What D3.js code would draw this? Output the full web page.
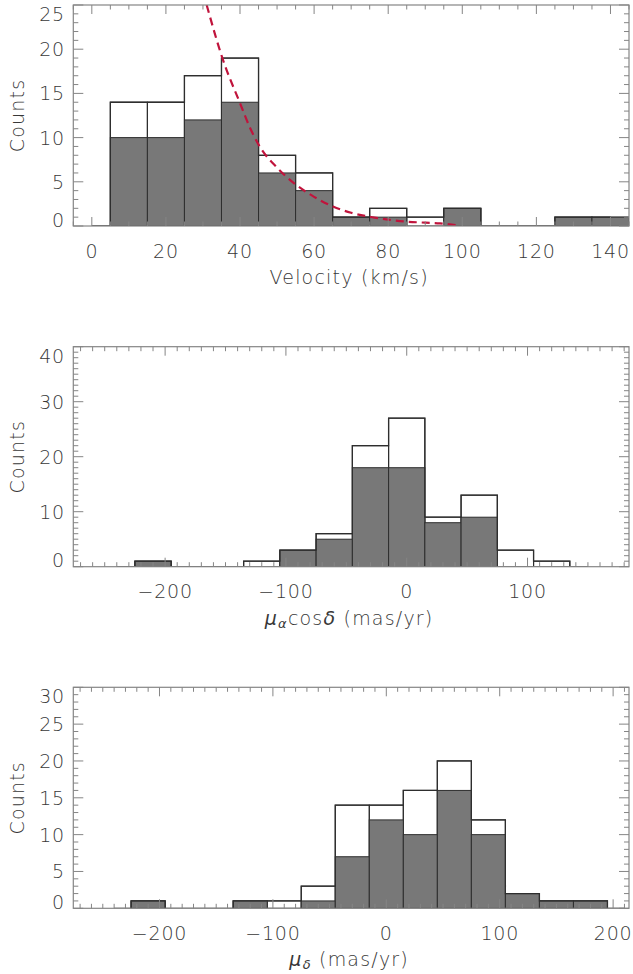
<!DOCTYPE html>
<html><head><meta charset="utf-8">
<script src="https://cdn.jsdelivr.net/npm/d3@7/dist/d3.min.js"></script>
<style>
html,body{margin:0;padding:0;background:#fff;}
svg text{font-family:"DejaVu Sans",sans-serif;font-weight:200;fill:#383838;}
</style></head>
<body>
<script>
// ---------- data ----------
const velCenters = [0,10,20,30,40,50,60,70,80,90,100,110,120,130,140];
const velTotal   = [0,14,14,17,19,8,6,1,2,1,2,0,0,1,1];
const velSub     = [0,10,10,12,14,6,4,1,1,0,2,0,0,1,1];
const velFitX    = [31,35.4,40,42.6,45.3,50,54.7,60,65.1,70,75.9,80,84.9,90,94,98.4];
const velFitY    = [25,18.8,13.9,11.2,9.0,6.6,4.8,3.3,2.2,1.5,0.98,0.72,0.49,0.38,0.3,0.1];
const velXTicks  = [0,20,40,60,80,100,120,140];
const velYTicks  = [0,5,10,15,20,25];

const pmraCenters = [-240,-210,-180,-150,-120,-90,-60,-30,0,30,60,90,120,150];
const pmraTotal   = [0,1,0,0,1,3,6,22,27,9,13,3,1,0];
const pmraSub     = [0,1,0,0,0,3,5,18,18,8,9,0,0,0];
const pmraXTicks  = [-200,-100,0,100];
const pmraYTicks  = [0,10,20,30,40];

const pmdCenters = [-240,-210,-180,-150,-120,-90,-60,-30,0,30,60,90,120,150,180,210];
const pmdTotal   = [0,1,0,0,1,1,3,14,14,16,20,12,2,1,1,0];
const pmdSub     = [0,1,0,0,1,0,1,7,12,10,16,10,2,1,1,0];
const pmdXTicks  = [-200,-100,0,100,200];
const pmdYTicks  = [0,5,10,15,20,25,30];

// ---------- drawing ----------
const W = 633, H = 974;
const svg = d3.select("body").append("svg").attr("width", W).attr("height", H);

const L = 73.3, R = 629;
const fmt = v => (v < 0 ? "\u2212" + Math.abs(v) : String(v));
const lineCol = "#2e2e2e";

function panel(cfg) {
  const x = d3.scaleLinear().domain(cfg.xdom).range([L, R]);
  const y = d3.scaleLinear().domain(cfg.ydom).range([cfg.bottom, cfg.top]);
  const g = svg.append("g");
  const clipId = "clip" + cfg.id;
  svg.append("clipPath").attr("id", clipId).append("rect")
    .attr("x", L).attr("y", cfg.top).attr("width", R - L).attr("height", cfg.bottom - cfg.top);
  const plot = g.append("g").attr("clip-path", `url(#${clipId})`);
  const bw = cfg.binw;

  // total histogram: outlined bins
  const tot = cfg.centers.map((c, i) => ({c, v: cfg.total[i]})).filter(d => d.v > 0);
  plot.selectAll("rect.tot").data(tot).join("rect")
    .attr("class", "tot")
    .attr("x", d => x(d.c - bw / 2))
    .attr("width", d => x(d.c + bw / 2) - x(d.c - bw / 2))
    .attr("y", d => y(d.v))
    .attr("height", d => y(0) - y(d.v))
    .attr("fill", "none")
    .attr("stroke", lineCol).attr("stroke-width", 1.1);

  // filled sub-sample bars
  const bars = cfg.centers.map((c, i) => ({c, v: cfg.sub[i]})).filter(d => d.v > 0);
  plot.selectAll("rect.bar").data(bars).join("rect")
    .attr("class", "bar")
    .attr("x", d => x(d.c - bw / 2))
    .attr("width", d => x(d.c + bw / 2) - x(d.c - bw / 2))
    .attr("y", d => y(d.v))
    .attr("height", d => y(0) - y(d.v))
    .attr("fill", "#787878")
    .attr("stroke", lineCol).attr("stroke-width", 1);

  // total histogram step outline (covers zero-count bins, half bins at the ends)
  const c = cfg.centers, v = cfg.total, n = c.length;
  let d = `M${x(c[0])},${y(v[0])}`;
  for (let i = 0; i < n; i++) {
    if (i > 0) d += `L${x(c[i] - bw / 2)},${y(v[i])}`;
    const xe = (i === n - 1) ? c[i] : c[i] + bw / 2;
    d += `L${x(xe)},${y(v[i])}`;
  }
  plot.append("path").attr("d", d).attr("fill", "none")
    .attr("stroke", lineCol).attr("stroke-width", 1.3);

  // fit curve
  if (cfg.fitX) {
    const line = d3.line().x((p, i) => x(cfg.fitX[i])).y((p, i) => y(cfg.fitY[i]))
      .curve(d3.curveMonotoneX);
    plot.append("path").attr("d", line(cfg.fitX)).attr("fill", "none")
      .attr("stroke", "#c0143c").attr("stroke-width", 2.2)
      .attr("stroke-dasharray", "8,5");
  }

  // frame
  const axc = "#858585";
  g.append("rect").attr("x", L).attr("y", cfg.top).attr("width", R - L)
    .attr("height", cfg.bottom - cfg.top).attr("fill", "none")
    .attr("stroke", axc).attr("stroke-width", 1.2);

  // x ticks (bottom & top, inward)
  const xminor = d3.range(Math.ceil(cfg.xdom[0] / cfg.xminor) * cfg.xminor, cfg.xdom[1] + 1e-9, cfg.xminor);
  const xt = g.append("g").attr("stroke", axc).attr("stroke-width", 1);
  xminor.forEach(t => {
    const major = cfg.xticks.includes(t);
    const len = major ? 9 : 4.5;
    xt.append("line").attr("x1", x(t)).attr("x2", x(t)).attr("y1", cfg.bottom).attr("y2", cfg.bottom - len);
    xt.append("line").attr("x1", x(t)).attr("x2", x(t)).attr("y1", cfg.top).attr("y2", cfg.top + len);
  });
  // y ticks (left & right, inward)
  const yminor = d3.range(cfg.ydom[0], cfg.ydom[1] + 1e-9, cfg.yminor);
  yminor.forEach(t => {
    const major = cfg.yticks.includes(t);
    const len = major ? 10 : 5;
    xt.append("line").attr("x1", L).attr("x2", L + len).attr("y1", y(t)).attr("y2", y(t));
    xt.append("line").attr("x1", R).attr("x2", R - len).attr("y1", y(t)).attr("y2", y(t));
  });

  // tick labels
  g.selectAll("text.xt").data(cfg.xticks).join("text").attr("class", "xt")
    .attr("x", t => x(t)).attr("y", cfg.bottom + 24.5)
    .attr("text-anchor", "middle").attr("dominant-baseline", "central")
    .attr("font-size", 19).attr("letter-spacing", 0.8).text(fmt);
  g.selectAll("text.yt").data(cfg.yticks).join("text").attr("class", "yt")
    .attr("x", 65).attr("y", t => Math.min(cfg.bottom - 6.5, Math.max(cfg.top + 9, y(t))))
    .attr("text-anchor", "end").attr("dominant-baseline", "central")
    .attr("font-size", 19).attr("letter-spacing", 0.8).text(fmt);

  // axis titles
  g.append("text").attr("transform", `translate(17,${(cfg.top + cfg.bottom) / 2}) rotate(-90)`)
    .attr("text-anchor", "middle").attr("dominant-baseline", "central")
    .attr("font-size", 19).attr("letter-spacing", 1.2).text("Counts");
  const xl = g.append("text").attr("x", (L + R) / 2 - 2).attr("y", cfg.bottom + 51)
    .attr("text-anchor", "middle").attr("dominant-baseline", "central")
    .attr("font-size", 19).attr("letter-spacing", 1.2);
  cfg.xlabel(xl);
}

panel({
  id: 1, top: 5, bottom: 226, xdom: [-5, 145], ydom: [0, 25],
  binw: 10, centers: velCenters, total: velTotal, sub: velSub,
  fitX: velFitX, fitY: velFitY,
  xticks: velXTicks, xminor: 5, yticks: velYTicks, yminor: 1,
  xlabel: t => t.text("Velocity (km/s)")
});
panel({
  id: 2, top: 346.7, bottom: 566.7, xdom: [-276, 184], ydom: [0, 40],
  binw: 30, centers: pmraCenters, total: pmraTotal, sub: pmraSub,
  xticks: pmraXTicks, xminor: 10, yticks: pmraYTicks, yminor: 1,
  xlabel: t => {
    t.append("tspan").attr("font-style", "italic").attr("font-weight", 400).text("\u03bc");
    t.append("tspan").attr("font-style", "italic").attr("font-weight", 400).attr("font-size", 13).attr("dy", 5).text("\u03b1");
    t.append("tspan").attr("dy", -5).text("cos");
    t.append("tspan").attr("font-style", "italic").attr("font-weight", 400).text("\u03b4");
    t.append("tspan").text(" (mas/yr)");
  }
});
panel({
  id: 3, top: 687.3, bottom: 908.3, xdom: [-276, 214], ydom: [0, 30],
  binw: 30, centers: pmdCenters, total: pmdTotal, sub: pmdSub,
  xticks: pmdXTicks, xminor: 10, yticks: pmdYTicks, yminor: 1,
  xlabel: t => {
    t.append("tspan").attr("font-style", "italic").attr("font-weight", 400).text("\u03bc");
    t.append("tspan").attr("font-style", "italic").attr("font-weight", 400).attr("font-size", 13).attr("dy", 5).text("\u03b4");
    t.append("tspan").attr("dy", -5).text(" (mas/yr)");
  }
});
</script>
</body></html>
